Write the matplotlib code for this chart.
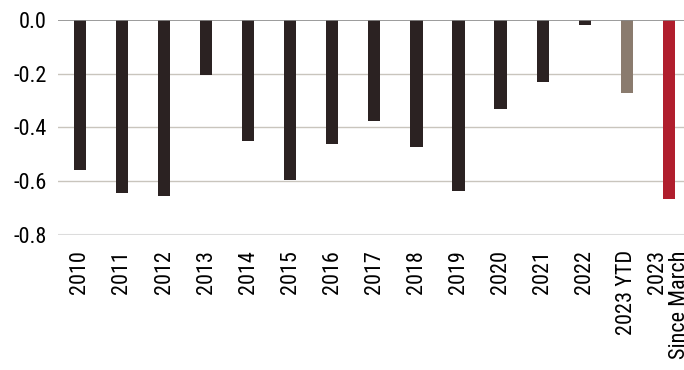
import matplotlib
matplotlib.use("Agg")
import matplotlib.pyplot as plt

categories = ["2010", "2011", "2012", "2013", "2014", "2015", "2016", "2017",
              "2018", "2019", "2020", "2021", "2022", "2023 YTD", "2023\nSince March"]
values = [-0.56, -0.645, -0.657, -0.206, -0.45, -0.595, -0.462, -0.375,
          -0.475, -0.638, -0.331, -0.231, -0.018, -0.271, -0.665]
colors = ["#2b2222"] * 13 + ["#8a7b6e", "#b01e2d"]

plt.rcParams['font.family'] = ['Roboto Condensed', 'Liberation Sans', 'DejaVu Sans']

fig = plt.figure(figsize=(6.84, 3.70), dpi=100)
ax = fig.add_axes([0.0848, 0.365, 0.9152, 0.5818])

x = list(range(len(categories)))
ax.bar(x, values, width=0.29, color=colors, zorder=3)

ax.set_ylim(-0.8, 0.0)
ax.set_xlim(-0.52, 14.36)
ax.set_yticks([0.0, -0.2, -0.4, -0.6, -0.8])
ax.set_yticklabels(["0.0", "-0.2", "-0.4", "-0.6", "-0.8"])
for yv in [-0.2, -0.4, -0.6]:
    ax.axhline(yv, color="#c9c5bd", lw=1.0, zorder=1)
ax.axhline(-0.8, color="#dcdcdc", lw=1.5, zorder=1)
ax.axhline(0.0, color="#8a8a8a", lw=1.2, zorder=4)

ax.set_xticks(x)
ax.set_xticklabels(categories, rotation=90, fontsize=16, va="top", ha="center",
                   multialignment="right", linespacing=1.05)
ax.tick_params(axis="y", labelsize=16, length=0, pad=8)
ax.tick_params(axis="x", length=0, pad=11)
for s in ax.spines.values():
    s.set_visible(False)

fig.savefig("out.png", dpi=100)
